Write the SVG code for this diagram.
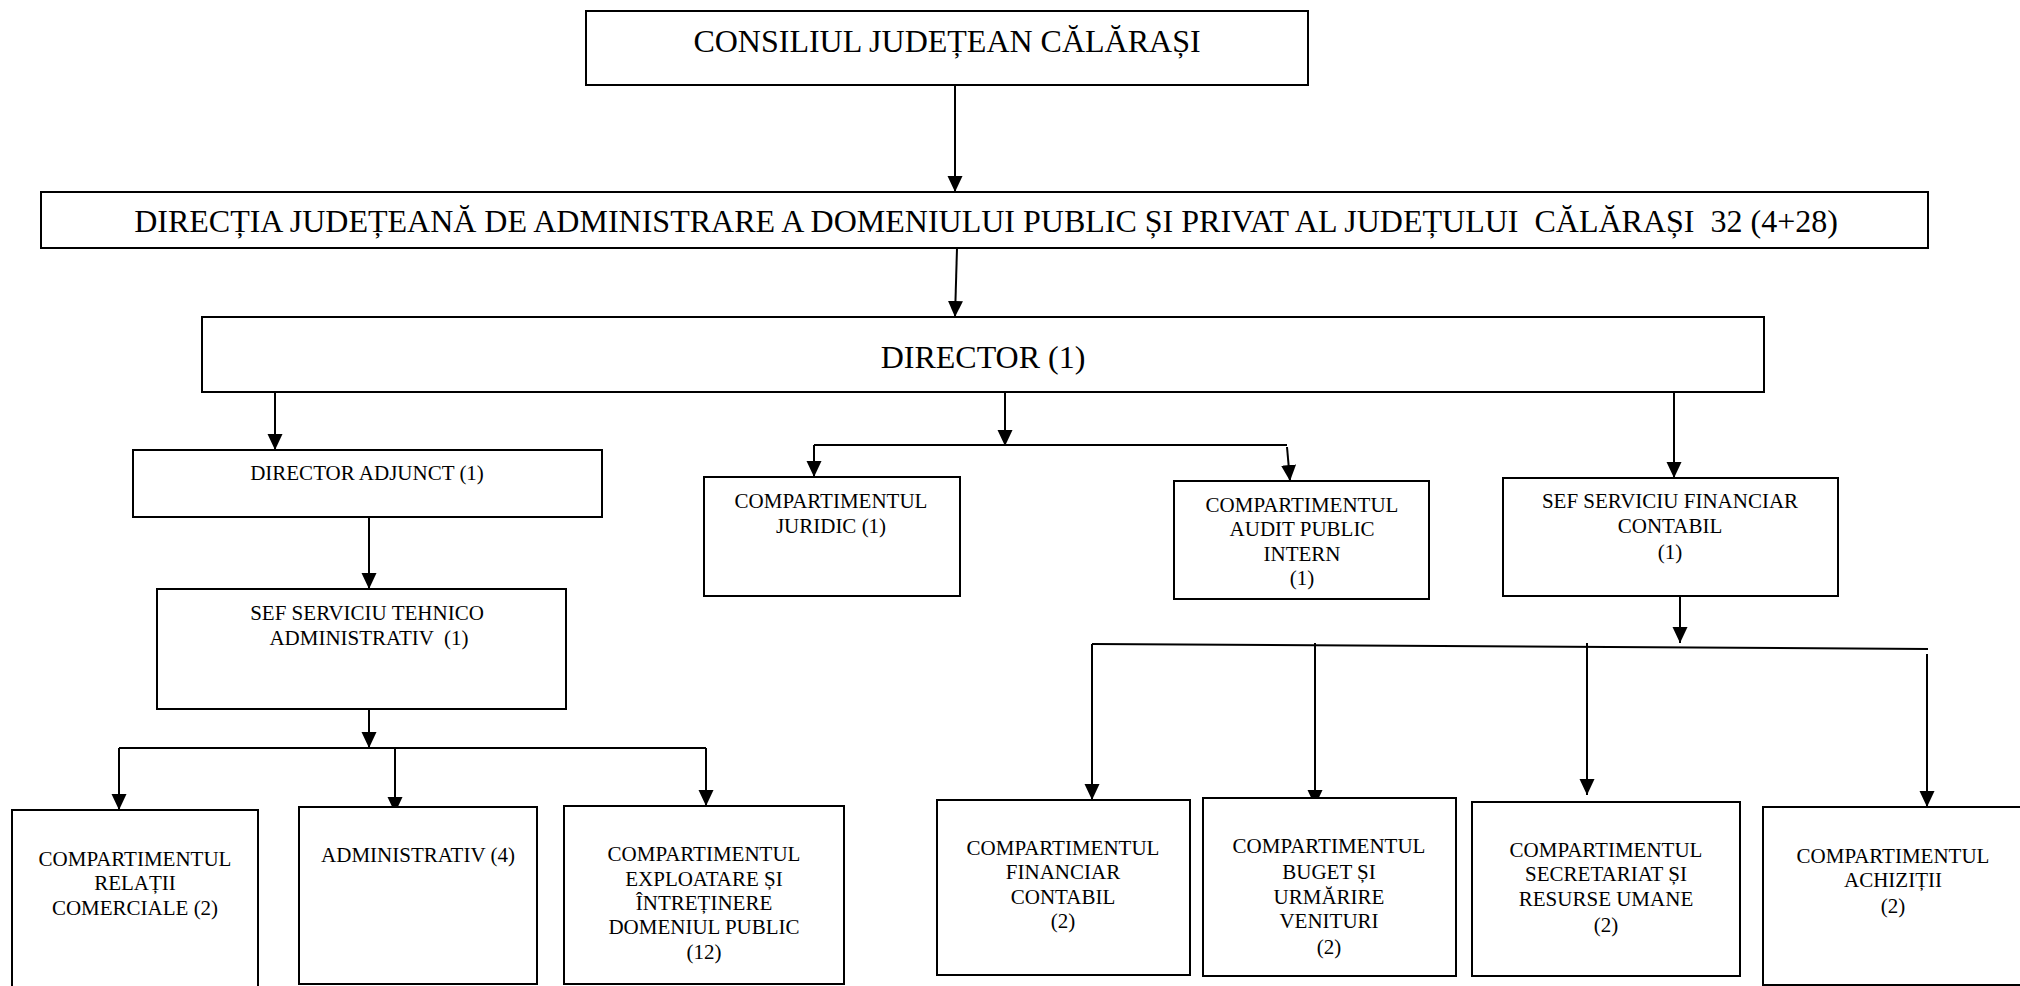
<svg xmlns="http://www.w3.org/2000/svg" width="2020" height="986" viewBox="0 0 2020 986">
<style>
.box{fill:#fff;stroke:#000;stroke-width:2}
text{font-family:'Liberation Serif','Times New Roman',Times,'DejaVu Serif',serif;fill:#000;text-anchor:middle}
.big{font-size:32px}
.sm{font-size:21px}
.ln{fill:none;stroke:#000;stroke-width:2}
.ar{fill:none;stroke:#000;stroke-width:2;marker-end:url(#ah)}
</style>
<defs>
<marker id="ah" markerUnits="userSpaceOnUse" markerWidth="16" markerHeight="16" refX="16" refY="7.5" orient="auto">
<path d="M0,0 L16,7.5 L0,15 z" fill="#000"/>
</marker>
</defs>
<rect width="2020" height="986" fill="#fff"/>
<g id="connectors">
<path class="ar" d="M955,85 L955,192"/>
<path class="ar" d="M957,248 L955,317"/>
<path class="ar" d="M275,392 L275,450"/>
<path class="ar" d="M1005,392 L1005,446"/>
<path class="ln" d="M814,445 L1287,445"/>
<path class="ar" d="M814,445 L814,477"/>
<path class="ar" d="M1287,447 L1290,481"/>
<path class="ar" d="M1674,392 L1674,478"/>
<path class="ar" d="M369,517 L369,589"/>
<path class="ar" d="M369,709 L369,748"/>
<path class="ln" d="M119,748 L706,748"/>
<path class="ar" d="M119,748 L119,810"/>
<path class="ar" d="M395,748 L395,813"/>
<path class="ar" d="M706,748 L706,806"/>
<path class="ar" d="M1680,597 L1680,643"/>
<path class="ln" d="M1092,644 L1928,649"/>
<path class="ar" d="M1092,644 L1092,800"/>
<path class="ar" d="M1315,643 L1315,806"/>
<path class="ar" d="M1587,643 L1587,795"/>
<path class="ar" d="M1927,654 L1927,807"/>
</g>
<g font-family="Liberation Serif, Times New Roman, serif">
<g id="consiliul">
<rect class="box" x="586" y="11" width="722" height="74"/>
<text class="big" x="947" y="52">CONSILIUL JUDEȚEAN CĂLĂRAȘI</text>
</g>
<g id="directia">
<rect class="box" x="41" y="192" width="1887" height="56"/>
<text class="big" x="986" y="232" xml:space="preserve">DIRECȚIA JUDEȚEANĂ DE ADMINISTRARE A DOMENIULUI PUBLIC ȘI PRIVAT AL JUDEȚULUI  CĂLĂRAȘI  32 (4+28)</text>
</g>
<g id="director">
<rect class="box" x="202" y="317" width="1562" height="75"/>
<text class="big" x="983" y="368">DIRECTOR (1)</text>
</g>
<g id="adjunct">
<rect class="box" x="133" y="450" width="469" height="67"/>
<text class="sm" x="367" y="480">DIRECTOR ADJUNCT (1)</text>
</g>
<g id="tehnico">
<rect class="box" x="157" y="589" width="409" height="120"/>
<text class="sm" x="367" y="620">SEF SERVICIU TEHNICO</text>
<text class="sm" x="369" y="645" xml:space="preserve">ADMINISTRATIV  (1)</text>
</g>
<g id="juridic">
<rect class="box" x="704" y="477" width="256" height="119"/>
<text class="sm" x="831" y="508">COMPARTIMENTUL</text>
<text class="sm" x="831" y="533">JURIDIC (1)</text>
</g>
<g id="audit">
<rect class="box" x="1174" y="481" width="255" height="118"/>
<text class="sm" x="1302" y="512">COMPARTIMENTUL</text>
<text class="sm" x="1302" y="536">AUDIT PUBLIC</text>
<text class="sm" x="1302" y="561">INTERN</text>
<text class="sm" x="1302" y="585">(1)</text>
</g>
<g id="sef-financiar">
<rect class="box" x="1503" y="478" width="335" height="118"/>
<text class="sm" x="1670" y="508">SEF SERVICIU FINANCIAR</text>
<text class="sm" x="1670" y="533">CONTABIL</text>
<text class="sm" x="1670" y="559">(1)</text>
</g>
<g id="relatii">
<rect class="box" x="12" y="810" width="246" height="200"/>
<text class="sm" x="135" y="866">COMPARTIMENTUL</text>
<text class="sm" x="135" y="890">RELAȚII</text>
<text class="sm" x="135" y="915">COMERCIALE (2)</text>
</g>
<g id="administrativ">
<rect class="box" x="299" y="807" width="238" height="177"/>
<text class="sm" x="418" y="862">ADMINISTRATIV (4)</text>
</g>
<g id="exploatare">
<rect class="box" x="564" y="806" width="280" height="178"/>
<text class="sm" x="704" y="861">COMPARTIMENTUL</text>
<text class="sm" x="704" y="886">EXPLOATARE ȘI</text>
<text class="sm" x="704" y="910">ÎNTREȚINERE</text>
<text class="sm" x="704" y="934">DOMENIUL PUBLIC</text>
<text class="sm" x="704" y="959">(12)</text>
</g>
<g id="financiar-contabil">
<rect class="box" x="937" y="800" width="253" height="175"/>
<text class="sm" x="1063" y="855">COMPARTIMENTUL</text>
<text class="sm" x="1063" y="879">FINANCIAR</text>
<text class="sm" x="1063" y="904">CONTABIL</text>
<text class="sm" x="1063" y="928">(2)</text>
</g>
<g id="buget">
<rect class="box" x="1203" y="798" width="253" height="178"/>
<text class="sm" x="1329" y="853">COMPARTIMENTUL</text>
<text class="sm" x="1329" y="879">BUGET ȘI</text>
<text class="sm" x="1329" y="904">URMĂRIRE</text>
<text class="sm" x="1329" y="928">VENITURI</text>
<text class="sm" x="1329" y="954">(2)</text>
</g>
<g id="secretariat">
<rect class="box" x="1472" y="802" width="268" height="174"/>
<text class="sm" x="1606" y="857">COMPARTIMENTUL</text>
<text class="sm" x="1606" y="881">SECRETARIAT ȘI</text>
<text class="sm" x="1606" y="906">RESURSE UMANE</text>
<text class="sm" x="1606" y="932">(2)</text>
</g>
<g id="achizitii">
<rect class="box" x="1763" y="807" width="300" height="178"/>
<text class="sm" x="1893" y="863">COMPARTIMENTUL</text>
<text class="sm" x="1893" y="887">ACHIZIȚII</text>
<text class="sm" x="1893" y="913">(2)</text>
</g>
</g>
</svg>
